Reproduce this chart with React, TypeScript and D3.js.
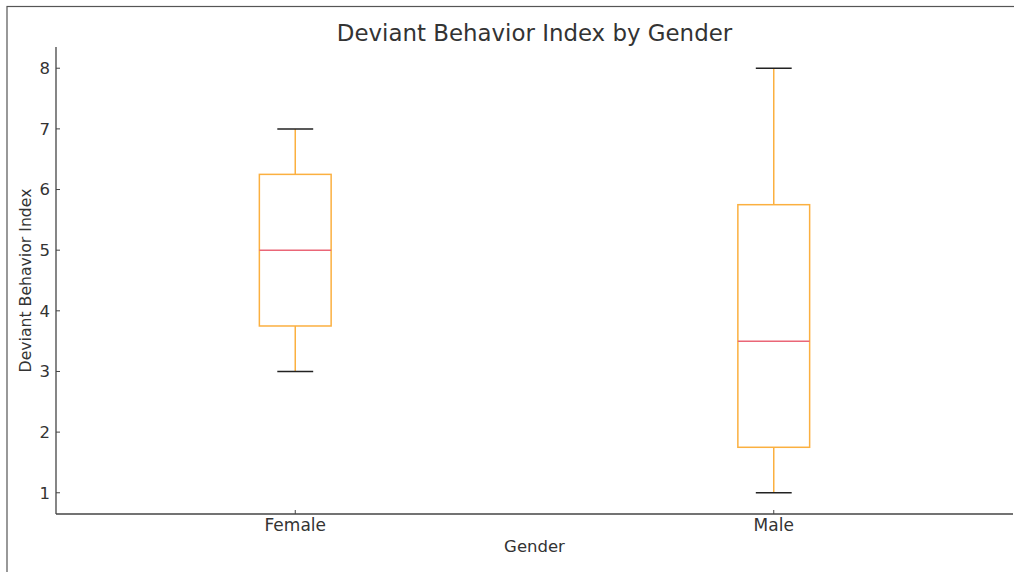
import React, { useEffect, useRef } from "react";
import * as d3 from "d3";

const categories = ["Female", "Male"];
const whiskerLow = [3, 1];
const q1 = [3.75, 1.75];
const medians = [5, 3.5];
const q3 = [6.25, 5.75];
const whiskerHigh = [7, 8];
const yTicks = [1, 2, 3, 4, 5, 6, 7, 8];

const App: React.FC = () => {
  const svgRef = useRef<SVGSVGElement>(null);
  const width = 1014;
  const height = 572;
  const margin = { top: 47, right: 1, bottom: 58, left: 56 };

  useEffect(() => {
    if (!svgRef.current) return;
    const svg = d3.select(svgRef.current);
    svg.selectAll("*").remove();

    const font = "'DejaVu Sans', sans-serif";
    const textColor = "#333333";
    const spine = "#444444";
    const boxColor = "#fbb040";
    const medianColor = "#ea6677";

    // figure frame
    svg
      .append("rect")
      .attr("x", 7)
      .attr("y", 6.5)
      .attr("width", width)
      .attr("height", height)
      .attr("fill", "white")
      .attr("stroke", "#555")
      .attr("stroke-width", 1.2);

    const x = d3
      .scaleLinear()
      .domain([0.5, 2.5])
      .range([margin.left, width - margin.right]);
    const y = d3
      .scaleLinear()
      .domain([0.65, 8.35])
      .range([height - margin.bottom, margin.top]);

    const g = svg.append("g");

    // boxes
    categories.forEach((c, i) => {
      const cx = x(i + 1);
      const bw = x(1.075) - x(1);
      const cw = bw / 2;
      // whiskers
      g.append("line")
        .attr("x1", cx)
        .attr("x2", cx)
        .attr("y1", y(q3[i]))
        .attr("y2", y(whiskerHigh[i]))
        .attr("stroke", boxColor)
        .attr("stroke-width", 1.5);
      g.append("line")
        .attr("x1", cx)
        .attr("x2", cx)
        .attr("y1", y(q1[i]))
        .attr("y2", y(whiskerLow[i]))
        .attr("stroke", boxColor)
        .attr("stroke-width", 1.5);
      // caps
      [whiskerLow[i], whiskerHigh[i]].forEach((v) => {
        g.append("line")
          .attr("x1", cx - cw)
          .attr("x2", cx + cw)
          .attr("y1", y(v))
          .attr("y2", y(v))
          .attr("stroke", "#222")
          .attr("stroke-width", 1.5);
      });
      // box
      g.append("rect")
        .attr("x", cx - bw)
        .attr("y", y(q3[i]))
        .attr("width", bw * 2)
        .attr("height", y(q1[i]) - y(q3[i]))
        .attr("fill", "none")
        .attr("stroke", boxColor)
        .attr("stroke-width", 1.5);
      // median
      g.append("line")
        .attr("x1", cx - bw)
        .attr("x2", cx + bw)
        .attr("y1", y(medians[i]))
        .attr("y2", y(medians[i]))
        .attr("stroke", medianColor)
        .attr("stroke-width", 1.5);
    });

    // spines
    svg
      .append("line")
      .attr("x1", margin.left)
      .attr("x2", margin.left)
      .attr("y1", margin.top)
      .attr("y2", height - margin.bottom)
      .attr("stroke", spine)
      .attr("stroke-width", 1.3);
    svg
      .append("line")
      .attr("x1", margin.left)
      .attr("x2", width - margin.right)
      .attr("y1", height - margin.bottom)
      .attr("y2", height - margin.bottom)
      .attr("stroke", spine)
      .attr("stroke-width", 1.3);

    // y ticks
    yTicks.forEach((t) => {
      svg
        .append("line")
        .attr("x1", margin.left)
        .attr("x2", margin.left + 4)
        .attr("y1", y(t))
        .attr("y2", y(t))
        .attr("stroke", spine)
        .attr("stroke-width", 1);
      svg
        .append("text")
        .attr("x", margin.left - 6)
        .attr("y", y(t))
        .attr("dy", "0.36em")
        .attr("text-anchor", "end")
        .attr("font-family", font)
        .attr("font-size", "16.5px")
        .attr("fill", textColor)
        .text(t);
    });

    // x ticks
    categories.forEach((c, i) => {
      const cx = x(i + 1);
      svg
        .append("line")
        .attr("x1", cx)
        .attr("x2", cx)
        .attr("y1", height - margin.bottom)
        .attr("y2", height - margin.bottom - 4)
        .attr("stroke", spine)
        .attr("stroke-width", 1);
      svg
        .append("text")
        .attr("x", cx)
        .attr("y", height - margin.bottom + 17)
        .attr("text-anchor", "middle")
        .attr("font-family", font)
        .attr("font-size", "17px")
        .attr("fill", textColor)
        .text(c);
    });

    // title and axis labels
    svg
      .append("text")
      .attr("x", (margin.left + width - margin.right) / 2)
      .attr("y", 41)
      .attr("text-anchor", "middle")
      .attr("font-family", font)
      .attr("font-size", "22.9px")
      .attr("fill", textColor)
      .text("Deviant Behavior Index by Gender");

    svg
      .append("text")
      .attr("x", (margin.left + width - margin.right) / 2)
      .attr("y", 552)
      .attr("text-anchor", "middle")
      .attr("font-family", font)
      .attr("font-size", "16.5px")
      .attr("fill", textColor)
      .text("Gender");

    svg
      .append("text")
      .attr("transform", `translate(31,${(margin.top + height - margin.bottom) / 2}) rotate(-90)`)
      .attr("text-anchor", "middle")
      .attr("font-family", font)
      .attr("font-size", "15.7px")
      .attr("fill", textColor)
      .text("Deviant Behavior Index");
  }, []);

  return (
    <svg
      ref={svgRef}
      width={width}
      height={height}
      style={{ position: "absolute", left: 0, top: 0, background: "white" }}
    />
  );
};

export default App;
